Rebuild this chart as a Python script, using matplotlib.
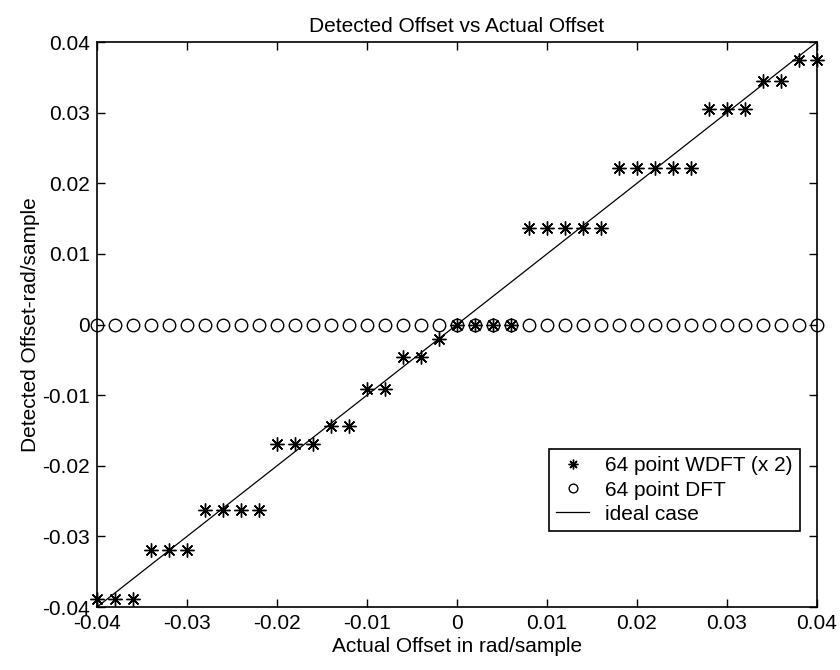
import numpy as np
import matplotlib
matplotlib.use("Agg")
import matplotlib.pyplot as plt

plt.rcParams['font.family'] = ['Liberation Sans', 'DejaVu Sans']

# === Data ===
actual_offset = np.round(np.arange(-0.04, 0.0401, 0.002), 4)

wdft_detected = [
    -0.0389, -0.0389, -0.0389,
    -0.0319, -0.0319, -0.0319,
    -0.0262, -0.0262, -0.0262, -0.0262,
    -0.0169, -0.0169, -0.0169,
    -0.0144, -0.0144,
    -0.0092, -0.0092,
    -0.0046, -0.0046,
    -0.0021,
    0.0, 0.0, 0.0, 0.0,
    0.0136, 0.0136, 0.0136, 0.0136, 0.0136,
    0.0221, 0.0221, 0.0221, 0.0221, 0.0221,
    0.0305, 0.0305, 0.0305,
    0.0345, 0.0345,
    0.0375, 0.0375,
]
dft_detected = [0.0] * len(actual_offset)

ideal_x = [-0.04, 0.04]
ideal_y = [-0.04, 0.04]

ticks = [-0.04, -0.03, -0.02, -0.01, 0, 0.01, 0.02, 0.03, 0.04]
tick_labels = ['-0.04', '-0.03', '-0.02', '-0.01', '0', '0.01', '0.02', '0.03', '0.04']

# === Plot ===
fig = plt.figure(figsize=(8.4, 6.7), dpi=100)
ax = fig.add_axes([0.1155, 0.094, 0.8571, 0.8433])

ax.plot(actual_offset, wdft_detected, linestyle='none', marker=(8, 2, 0),
        markersize=10, markeredgewidth=1.0, color='black', clip_on=False,
        label='64 point WDFT (x 2)')
ax.plot(actual_offset, dft_detected, linestyle='none', marker='o', markersize=9,
        markerfacecolor='none', markeredgecolor='black', markeredgewidth=1.0,
        clip_on=False, label='64 point DFT')
ax.plot(ideal_x, ideal_y, color='black', linewidth=0.9, label='ideal case')

ax.set_xlim(-0.04, 0.04)
ax.set_ylim(-0.04, 0.04)
ax.set_xticks(ticks)
ax.set_xticklabels(tick_labels)
ax.set_yticks(ticks)
ax.set_yticklabels(tick_labels)
ax.tick_params(direction='in', top=True, right=True, length=6, width=1.0,
               labelsize=15, pad=5)
for spine in ax.spines.values():
    spine.set_linewidth(1.2)

ax.set_title("Detected Offset vs Actual Offset", fontsize=15, pad=7)
ax.set_xlabel("Actual Offset in rad/sample", fontsize=15, labelpad=3)
ax.set_ylabel("Detected Offset-rad/sample", fontsize=15, labelpad=2)

leg = ax.legend(loc='lower right', bbox_to_anchor=(0.976, 0.1345), borderaxespad=0,
                fontsize=15, fancybox=False, framealpha=1, edgecolor='black',
                handlelength=1.6, handletextpad=0.75, borderpad=0.35,
                labelspacing=0.25, markerscale=0.7)
leg.get_frame().set_linewidth(1.2)

fig.savefig("out.png", dpi=100)
